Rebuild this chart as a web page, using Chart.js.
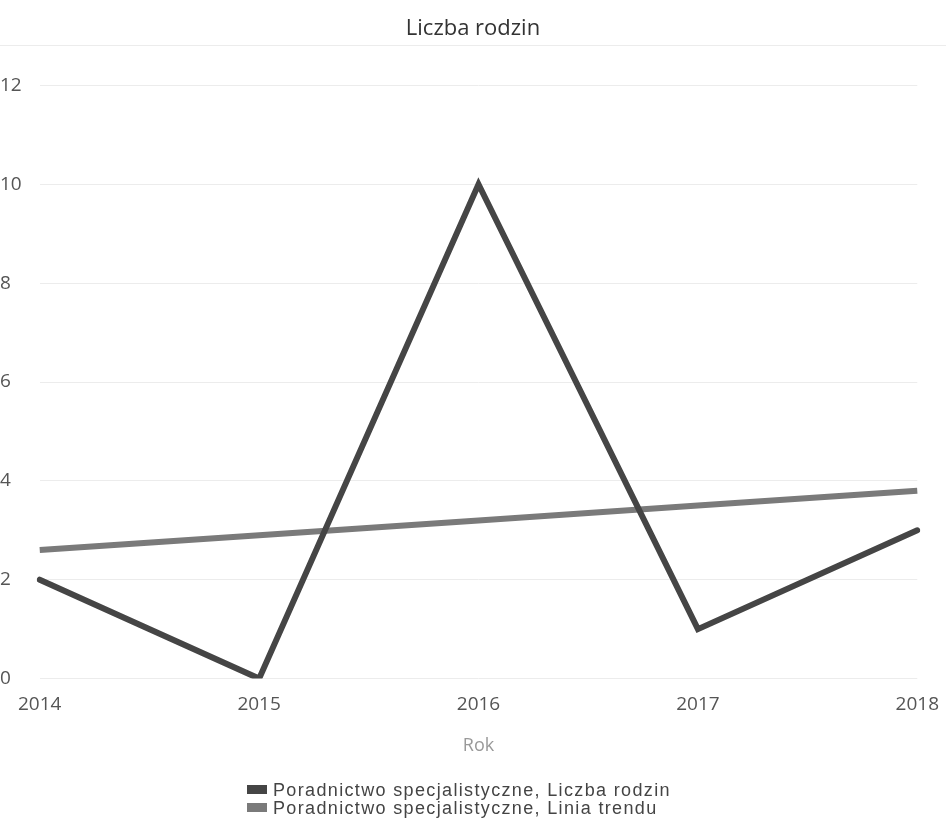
<!DOCTYPE html>
<html>
<head>
<meta charset="utf-8">
<script src="https://cdn.jsdelivr.net/npm/chart.js@4/dist/chart.umd.min.js"></script>
<style>
html,body{margin:0;padding:0;background:#fff;}
#wrap{position:relative;width:946px;height:826px;}
#legend{position:absolute;left:247px;top:781px;font-family:"Liberation Sans",Arial,sans-serif;font-size:18px;letter-spacing:1.35px;color:#444;line-height:18px;}
#legend div{white-space:nowrap;}
#legend span{display:inline-block;width:20px;height:9px;margin-right:6px;vertical-align:2px;}
</style>
</head>
<body>
<div id="wrap">
<canvas id="c" width="946" height="826"></canvas>
<div id="legend"></div>
</div>
<script>
// dane
let years=["2014","2015","2016","2017","2018"];
let rodziny=[2,0,10,1,3];
let trend=[2.6,2.9,3.2,3.5,3.8];
let names=["Poradnictwo specjalistyczne, Liczba rodzin","Poradnictwo specjalistyczne, Linia trendu"];
let colors=["#454545","#7a7a7a"];

/* linia pod tytulem */
let sepLine={
id:"sepLine",
afterDraw(chart){
let ctx=chart.ctx;
ctx.save();
ctx.strokeStyle="#ececec";
ctx.lineWidth=1;
ctx.beginPath();
ctx.moveTo(0,45.5);
ctx.lineTo(946,45.5);
ctx.stroke();
ctx.restore();
}
};

let chart=new Chart(document.getElementById("c"),{
type:"line",
data:{
labels:years,
datasets:[
{label:names[0],data:rodziny,borderColor:colors[0],backgroundColor:colors[0],borderWidth:6,pointRadius:0,tension:0,borderJoinStyle:"miter",borderCapStyle:"round"},
{label:names[1],data:trend,borderColor:colors[1],backgroundColor:colors[1],borderWidth:6,pointRadius:0,tension:0}
]
},
options:{
responsive:false,
animation:false,
layout:{padding:{left:0,right:0,top:0,bottom:65}},
plugins:{
legend:{display:false},
tooltip:{enabled:false},
title:{display:true,text:"Liczba rodzin",color:"#333",font:{family:"Open Sans",size:22,weight:"normal"},padding:{top:16,bottom:43}}
},
scales:{
x:{
offset:false,
grid:{display:false},
border:{display:false},
ticks:{color:"#555",font:{family:"Open Sans",size:19},padding:7,maxRotation:0},
title:{display:true,text:"Rok",color:"#999",font:{family:"Open Sans",size:18},padding:{top:12}}
},
y:{
min:0,max:12,
ticks:{stepSize:2,color:"#555",font:{family:"Open Sans",size:19},crossAlign:"far",padding:9},
grid:{color:"#ececec",drawTicks:false},
border:{display:false}
}
}
},
plugins:[sepLine]
});

/* LEGENDA */
let lg=document.getElementById("legend");
names.forEach((n,i)=>{
lg.innerHTML+='<div><span style="background:'+colors[i]+'"></span>'+n+'</div>';
});
</script>
</body>
</html>
